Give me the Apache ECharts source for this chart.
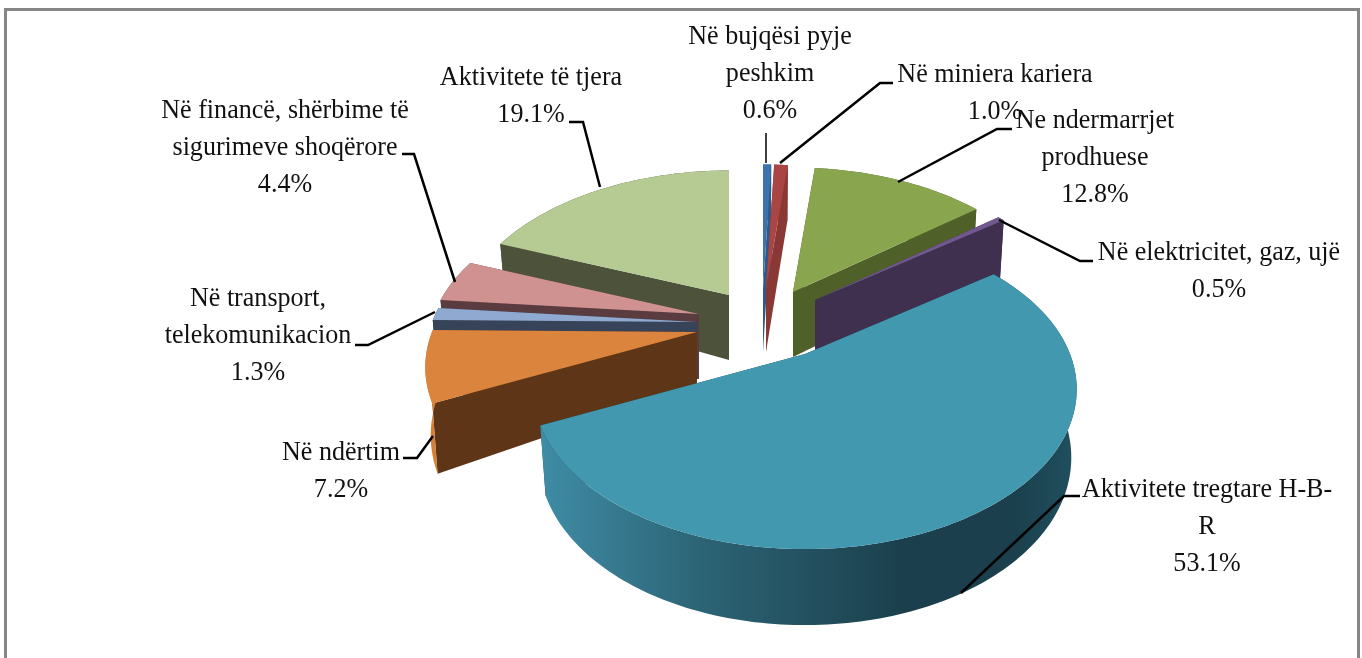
<!DOCTYPE html>
<html>
<head>
<meta charset="utf-8">
<title>Ndermarrjet sipas aktivitetit</title>
<script src="https://cdn.jsdelivr.net/npm/echarts@6/dist/echarts.min.js"></script>
<style>
  html, body { margin: 0; padding: 0; background: #fff; }
  #chart { width: 1362px; height: 658px; }
</style>
</head>
<body>
<div id="chart"></div>
<script>
// data, clockwise from 12 o'clock
const categories = [
  'Në bujqësi pyje\npeshkim',
  'Në miniera kariera',
  'Ne ndermarrjet\nprodhuese',
  'Në elektricitet, gaz, ujë',
  'Aktivitete tregtare H-B-\nR',
  'Në ndërtim',
  'Në transport,\ntelekomunikacion',
  'Në financë, shërbime të\nsigurimeve shoqërore',
  'Aktivitete të tjera'
];
const shares = [0.6, 1.0, 12.8, 0.5, 53.1, 7.2, 1.3, 4.4, 19.1];

// slice styling
const topColors = ['#3d72ab', '#a94644', '#89a54e', '#71588f', '#4198af', '#db843d', '#8fa9d0', '#d09291', '#b6ca93'];
const faceColors = ['#2f5a88', '#8a3836', '#4f6128', '#3f3050', '#1d4552', '#5f3517', '#374358', '#5a3b3f', '#4d533a'];
const wallColors = ['#2f5a88', '#8a3836', '#4f6128', '#3f3050', null, '#d77f35', '#374358', '#5a3b3f', '#4d533a'];
const drawOrder = [0, 1, 2, 8, 7, 6, 5, 3, 4];

// pie projection (perspective squash of a disc)
const pieCenter = [760, 325];
const radiusX = 265;
const radiusY = 152;
const perspective = 0.221;
const explodeOffsets = [[3, -36], [6, -36], [33, -33], [55, -25], [45, 29], [-63, 7], [-63, -3], [-61, -11], [-31, -30]];
const apexDepths = [63, 63, 65, 65, 65, 53, 65, 65, 65];
const rimDepthScale = [1, 1, 1, 1, 1, 1, 1, 1, 0.85];

// label layout: centre x, top y, horizontal squeeze
const labelBoxes = [
  [770, 18, 0.965], [995, 56, 0.965], [1095, 102, 0.965], [1219, 234, 0.965], [1207, 471, 0.965],
  [341, 434, 0.965], [258, 280, 0.965], [285, 92, 0.965], [531, 59, 0.965]
];
const leaderLines = [
  [[766, 133], [766, 163]],
  [[893, 83], [880, 83], [780, 163]],
  [[1012, 129], [997, 129], [898, 182]],
  [[999, 220], [1080, 261], [1093, 261]],
  [[1080, 496], [1064, 496], [961, 593]],
  [[403, 458], [417, 458], [433, 436]],
  [[355, 345], [368, 345], [435, 312]],
  [[402, 154], [414, 154], [455, 282]],
  [[569, 122], [583, 122], [600, 187]]
];

const total = shares.reduce((a, b) => a + b, 0);

function rimPoint(i, angle) {
  const sin = Math.sin(angle), cos = Math.cos(angle);
  const f = 1 + perspective * cos;
  return [
    pieCenter[0] + explodeOffsets[i][0] + radiusX * sin / f,
    pieCenter[1] + explodeOffsets[i][1] - radiusY * cos / f
  ];
}

// lower edge of the slab: pushed down and pulled slightly towards the apex
function dropPoint(i, p, angle) {
  const apexX = pieCenter[0] + explodeOffsets[i][0];
  const depth = (66 - 10 * Math.cos(angle)) * rimDepthScale[i];
  return [apexX + (p[0] - apexX) * 0.98, p[1] + depth];
}

function poly(points, fill, z2) {
  return { type: 'polygon', z2: z2, silent: true, shape: { points: points }, style: { fill: fill } };
}

function renderSlice(params, api) {
  const i = params.dataIndex;
  const before = shares.slice(0, i).reduce((a, b) => a + b, 0);
  const a0 = before / total * Math.PI * 2;
  const a1 = (before + api.value(0)) / total * Math.PI * 2;
  const apex = [pieCenter[0] + explodeOffsets[i][0], pieCenter[1] + explodeOffsets[i][1]];
  const apexLow = [apex[0], apex[1] + apexDepths[i]];

  const rim = [];
  const steps = Math.max(2, Math.ceil((a1 - a0) / 0.02));
  for (let s = 0; s <= steps; s++) rim.push(a0 + (a1 - a0) * s / steps);
  const top = rim.map((a) => rimPoint(i, a));
  const low = rim.map((a, k) => dropPoint(i, top[k], a));

  const startFace = [apex, top[0], low[0], apexLow];
  const endFace = [apex, top[steps], low[steps], apexLow];
  const faces = Math.sin((a0 + a1) / 2) > 0 ? [startFace, endFace] : [endFace, startFace];
  const base = drawOrder.indexOf(i) * 10;

  const wallFill = wallColors[i] || new echarts.graphic.LinearGradient(0, 0, 1, 0, [
    { offset: 0, color: '#3f8ca6' },
    { offset: 0.3, color: '#2c6475' },
    { offset: 0.68, color: '#1b3f4c' },
    { offset: 0.88, color: '#1b3f4c' },
    { offset: 1, color: '#20505f' }
  ]);

  return {
    type: 'group',
    children: [
      poly(faces[0], faceColors[i], base),
      poly(faces[1], faceColors[i], base + 1),
      poly(top.concat(low.slice().reverse()), wallFill, base + 2),
      poly([apex].concat(top), topColors[i], base + 3)
    ]
  };
}

const labelElements = categories.map((name, i) => ({
  type: 'text',
  z: 10,
  silent: true,
  x: labelBoxes[i][0],
  y: labelBoxes[i][1],
  scaleX: labelBoxes[i][2],
  style: {
    text: name + '\n' + shares[i].toFixed(1) + '%',
    x: 0,
    y: 0,
    fill: '#111',
    font: '27px "Liberation Serif", serif',
    lineHeight: 37,
    align: 'center',
    verticalAlign: 'top'
  }
}));

const leaderElements = leaderLines.map((pts, i) => ({
  type: 'polyline',
  z: 10,
  silent: true,
  shape: { points: pts },
  style: { stroke: '#000', lineWidth: i === 0 ? 1.5 : 2.5, fill: null }
}));

const frame = {
  type: 'polyline',
  z: 1,
  silent: true,
  shape: { points: [[5.5, 658], [5.5, 9.5], [1358.5, 9.5], [1358.5, 658]] },
  style: { stroke: '#868686', lineWidth: 3, fill: null }
};

const chart = echarts.init(document.getElementById('chart'));
chart.setOption({
  backgroundColor: '#fff',
  animation: false,
  graphic: { elements: [frame].concat(leaderElements, labelElements) },
  series: [{
    type: 'custom',
    coordinateSystem: 'none',
    silent: true,
    renderItem: renderSlice,
    data: shares.map((v, i) => ({ name: categories[i], value: [v] }))
  }]
});
</script>
</body>
</html>
